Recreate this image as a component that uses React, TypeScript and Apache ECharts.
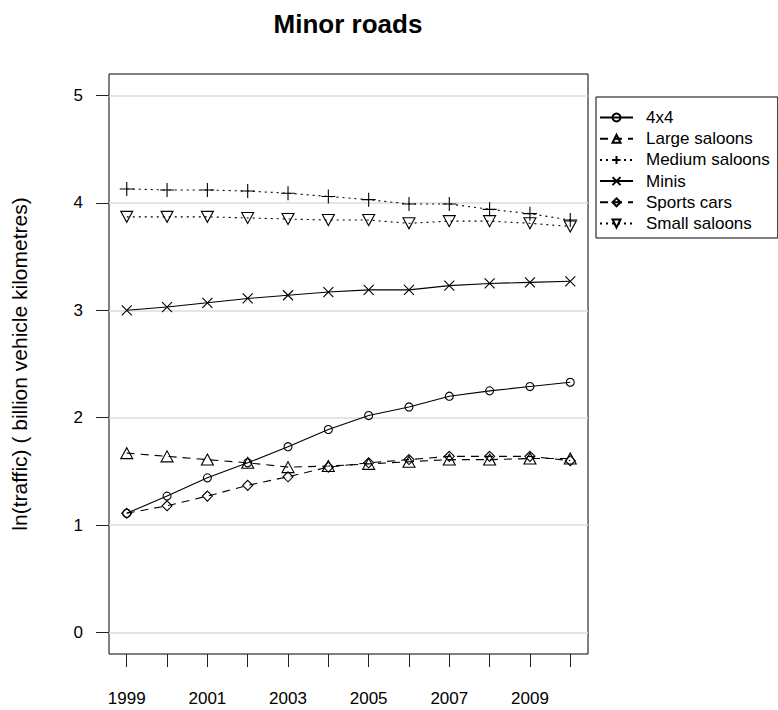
import { useEffect, useRef } from 'react';
import * as echarts from 'echarts';

const years = [1999, 2000, 2001, 2002, 2003, 2004, 2005, 2006, 2007, 2008, 2009, 2010];
const xLabelValues = [1999, 2001, 2003, 2005, 2007, 2009];
const yTickValues = [0, 1, 2, 3, 4, 5];

const seriesNames = ['4x4', 'Large saloons', 'Medium saloons', 'Minis', 'Sports cars', 'Small saloons'];
const fourByFour = [1.11, 1.27, 1.44, 1.58, 1.73, 1.89, 2.02, 2.10, 2.20, 2.25, 2.29, 2.33];
const largeSaloons = [1.67, 1.64, 1.61, 1.58, 1.54, 1.55, 1.57, 1.59, 1.61, 1.61, 1.62, 1.62];
const mediumSaloons = [4.13, 4.12, 4.12, 4.11, 4.09, 4.06, 4.03, 3.99, 3.99, 3.94, 3.90, 3.84];
const minis = [3.00, 3.03, 3.07, 3.11, 3.14, 3.17, 3.19, 3.19, 3.23, 3.25, 3.26, 3.27];
const sportsCars = [1.11, 1.18, 1.27, 1.37, 1.45, 1.54, 1.58, 1.61, 1.64, 1.64, 1.64, 1.60];
const smallSaloons = [3.87, 3.87, 3.87, 3.86, 3.85, 3.84, 3.84, 3.81, 3.83, 3.83, 3.81, 3.78];

const FONT = '"Liberation Sans", Arial, sans-serif';

export default function App() {
  const ref = useRef<HTMLDivElement>(null);
  useEffect(() => {
    if (!ref.current) return;
    const chart = echarts.init(ref.current, undefined, { renderer: 'svg' });
    const values = [fourByFour, largeSaloons, mediumSaloons, minis, sportsCars, smallSaloons];
    const symbols: any[] = [
      { symbol: 'circle', size: 8, rotate: 0 },
      { symbol: 'triangle', size: [12, 11], rotate: 0 },
      { symbol: 'path://M0,-1L0,1M-1,0L1,0', size: 14, rotate: 0 },
      { symbol: 'path://M-1,-1L1,1M1,-1L-1,1', size: 10, rotate: 0 },
      { symbol: 'diamond', size: 10, rotate: 0 },
      { symbol: 'triangle', size: [12, 11], rotate: 180 },
    ];
    const dashes: any[] = ['solid', [8, 6], [2, 4], 'solid', [8, 6], [2, 4]];
    const series = seriesNames.map((name, i) => ({
      name,
      type: 'line',
      data: years.map((y, j) => [y, values[i][j]]),
      symbol: symbols[i].symbol,
      symbolSize: symbols[i].size,
      symbolRotate: symbols[i].rotate,
      showAllSymbol: true,
      lineStyle: { color: '#000', width: 1.1, type: dashes[i] },
      itemStyle: { color: 'transparent', borderColor: '#000', borderWidth: 1.1 },
      emphasis: { disabled: true },
      z: 3,
    }));
    chart.setOption({
      animation: false,
      grid: {
        left: 109,
        right: 190,
        top: 74,
        bottom: 56,
        show: true,
        borderColor: '#000',
        borderWidth: 1,
        containLabel: false,
      },
      graphic: [
        {
          type: 'text',
          x: 348,
          y: 24,
          style: {
            text: 'Minor roads',
            font: `bold 26px ${FONT}`,
            fill: '#000',
            align: 'center',
            verticalAlign: 'middle',
          },
        },
      ],
      legend: {
        orient: 'vertical',
        left: 596,
        top: 97,
        itemWidth: 33,
        itemHeight: 10,
        itemGap: 4.2,
        padding: [12, 8, 6, 3],
        borderColor: '#000',
        borderWidth: 1,
        borderRadius: 0,
        selectedMode: false,
        textStyle: { fontSize: 17, color: '#000', fontFamily: FONT, lineHeight: 14, padding: [0, 0, 0, 8] },
        data: seriesNames,
      },
      xAxis: {
        type: 'value',
        min: 1998.56,
        max: 2010.44,
        axisLine: { show: false, onZero: false },
        axisTick: { show: true, inside: false, length: 13, customValues: years, lineStyle: { color: '#222', width: 1 } },
        axisLabel: { customValues: xLabelValues, fontSize: 17, color: '#000', fontFamily: FONT, margin: 36, formatter: (v: number) => String(v) },
        splitLine: { show: false },
      },
      yAxis: {
        type: 'value',
        min: -0.2,
        max: 5.2,
        name: 'ln(traffic) ( billion vehicle kilometres)',
        nameLocation: 'middle',
        nameGap: 79,
        nameTextStyle: { fontSize: 21, color: '#000', fontFamily: FONT },
        axisLine: { show: false, onZero: false },
        axisTick: { show: true, inside: false, length: 13, customValues: yTickValues, lineStyle: { color: '#222', width: 1 } },
        axisLabel: { customValues: yTickValues, fontSize: 17, color: '#000', fontFamily: FONT, margin: 26 },
        splitLine: { show: true, lineStyle: { color: '#dcdcdc', width: 1.5 } },
      },
      series,
    });
    return () => chart.dispose();
  }, []);
  return <div ref={ref} style={{ position: 'absolute', left: 0, top: 0, width: 778, height: 710 }} />;
}
